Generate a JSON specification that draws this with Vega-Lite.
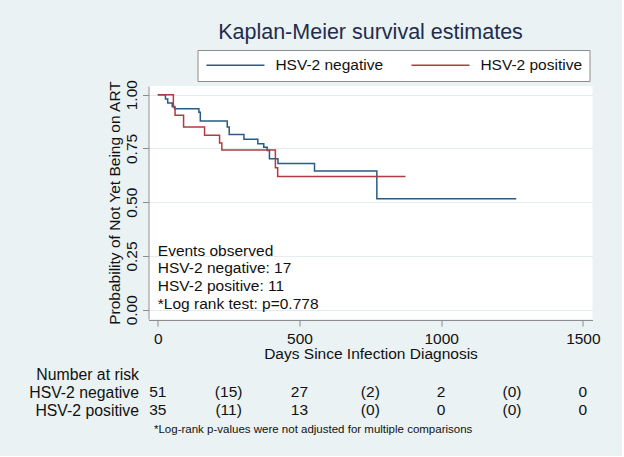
{
  "$schema": "https://vega.github.io/schema/vega-lite/v6.json",
  "background": "#eaf2f3",
  "padding": {"left": 28.5, "top": 22, "right": 21, "bottom": 21},
  "config": {"font": "Liberation Sans", "view": {"stroke": null}},
  "spacing": 4,
  "vconcat": [
    {
      "width": 444,
      "height": 233,
      "title": {"text": "Kaplan-Meier survival estimates", "fontSize": 21.5, "fontWeight": "normal", "color": "#1f2d4d", "anchor": "middle", "offset": 36},
      "view": {"fill": "white", "stroke": null},
      "layer": [
        {
          "data": {"values": [
            {"group": "HSV-2 negative", "t": 0, "s": 1.0},
            {"group": "HSV-2 negative", "t": 27, "s": 0.980},
            {"group": "HSV-2 negative", "t": 35, "s": 0.961},
            {"group": "HSV-2 negative", "t": 51, "s": 0.945},
            {"group": "HSV-2 negative", "t": 59, "s": 0.935},
            {"group": "HSV-2 negative", "t": 145, "s": 0.919},
            {"group": "HSV-2 negative", "t": 150, "s": 0.878},
            {"group": "HSV-2 negative", "t": 245, "s": 0.850},
            {"group": "HSV-2 negative", "t": 252, "s": 0.815},
            {"group": "HSV-2 negative", "t": 304, "s": 0.793},
            {"group": "HSV-2 negative", "t": 353, "s": 0.772},
            {"group": "HSV-2 negative", "t": 374, "s": 0.756},
            {"group": "HSV-2 negative", "t": 386, "s": 0.740},
            {"group": "HSV-2 negative", "t": 394, "s": 0.702},
            {"group": "HSV-2 negative", "t": 424, "s": 0.680},
            {"group": "HSV-2 negative", "t": 553, "s": 0.645},
            {"group": "HSV-2 negative", "t": 773, "s": 0.516},
            {"group": "HSV-2 negative", "t": 1265, "s": 0.516},
            {"group": "HSV-2 positive", "t": 0, "s": 1.0},
            {"group": "HSV-2 positive", "t": 55, "s": 0.943},
            {"group": "HSV-2 positive", "t": 61, "s": 0.905},
            {"group": "HSV-2 positive", "t": 91, "s": 0.850},
            {"group": "HSV-2 positive", "t": 165, "s": 0.812},
            {"group": "HSV-2 positive", "t": 218, "s": 0.775},
            {"group": "HSV-2 positive", "t": 226, "s": 0.743},
            {"group": "HSV-2 positive", "t": 415, "s": 0.660},
            {"group": "HSV-2 positive", "t": 423, "s": 0.620},
            {"group": "HSV-2 positive", "t": 874, "s": 0.620}
          ]},
          "mark": {"type": "line", "interpolate": "step-after", "strokeWidth": 1.5},
          "encoding": {
            "x": {
              "field": "t", "type": "quantitative",
              "scale": {"domain": [-32.8, 1534], "nice": false, "zero": false},
              "axis": {"values": [0, 500, 1000, 1500], "format": "d", "title": "Days Since Infection Diagnosis", "titleFontSize": 15.5, "titleFontWeight": "normal", "titleColor": "#111111", "titlePadding": 0, "labelFontSize": 15.5, "labelColor": "#111111", "labelPadding": 5, "tickSize": 6, "tickColor": "#8c8c8c", "domainColor": "#8c8c8c", "grid": false, "offset": 1, "labelFlush": false}
            },
            "y": {
              "field": "s", "type": "quantitative",
              "scale": {"domain": [-0.043, 1.0405], "nice": false, "zero": false},
              "axis": {"values": [0, 0.25, 0.5, 0.75, 1], "format": ".2f", "title": "Probability of Not Yet Being on ART", "titleFontSize": 15.5, "titleFontWeight": "normal", "titleColor": "#111111", "titlePadding": 2, "labelAngle": -90, "labelAlign": "center", "labelBaseline": "bottom", "labelFontSize": 15.5, "labelColor": "#111111", "labelPadding": 3, "tickSize": 6, "tickColor": "#8c8c8c", "domainColor": "#8c8c8c", "grid": true, "gridColor": "#e4ecee", "labelFlush": false}
            },
            "color": {
              "field": "group", "type": "nominal",
              "scale": {"domain": ["HSV-2 negative", "HSV-2 positive"], "range": ["#2a5a85", "#b33a40"]},
              "legend": {"orient": "none", "legendX": 49, "legendY": -36, "direction": "horizontal", "title": null, "fillColor": "white", "strokeColor": "#8c8c8c", "padding": 7, "labelFontSize": 15.5, "labelColor": "#111111", "symbolType": "M-1,0L9,0", "symbolSize": 134.6, "symbolStrokeWidth": 1.5, "labelOffset": 55.4, "columnPadding": 24, "cornerRadius": 0}
            }
          }
        },
        {
          "data": {"values": [{"note": "Events observed"}]},
          "mark": {"type": "text", "align": "left", "baseline": "top", "fontSize": 15.5, "lineHeight": 17.6, "color": "#111111"},
          "encoding": {
            "x": {"datum": 0},
            "y": {"datum": 0.307},
            "text": {"value": ["Events observed", "HSV-2 negative: 17", "HSV-2 positive: 11", "*Log rank test: p=0.778"]}
          }
        }
      ]
    },
    {
      "width": 444,
      "height": 36,
      "data": {"values": [
        {"group": "HSV-2 negative", "t": 0, "n": "51"},
        {"group": "HSV-2 negative", "t": 250, "n": "(15)"},
        {"group": "HSV-2 negative", "t": 500, "n": "27"},
        {"group": "HSV-2 negative", "t": 750, "n": "(2)"},
        {"group": "HSV-2 negative", "t": 1000, "n": "2"},
        {"group": "HSV-2 negative", "t": 1250, "n": "(0)"},
        {"group": "HSV-2 negative", "t": 1500, "n": "0"},
        {"group": "HSV-2 positive", "t": 0, "n": "35"},
        {"group": "HSV-2 positive", "t": 250, "n": "(11)"},
        {"group": "HSV-2 positive", "t": 500, "n": "13"},
        {"group": "HSV-2 positive", "t": 750, "n": "(0)"},
        {"group": "HSV-2 positive", "t": 1000, "n": "0"},
        {"group": "HSV-2 positive", "t": 1250, "n": "(0)"},
        {"group": "HSV-2 positive", "t": 1500, "n": "0"}
      ]},
      "mark": {"type": "text", "fontSize": 15.5, "color": "#111111"},
      "encoding": {
        "x": {
          "field": "t", "type": "quantitative",
          "scale": {"domain": [-32.8, 1534], "nice": false, "zero": false},
          "axis": {"labels": false, "ticks": false, "domain": false, "grid": false, "title": "*Log-rank p-values were not adjusted for multiple comparisons", "titleFontSize": 11.5, "titleFontWeight": "normal", "titleColor": "#111111", "titleAnchor": "start", "titleAlign": "left", "titleX": 5, "titlePadding": 13}
        },
        "y": {
          "field": "group", "type": "nominal",
          "scale": {"type": "point", "domain": ["Number at risk", "HSV-2 negative", "HSV-2 positive"], "padding": 0},
          "axis": {"title": null, "ticks": false, "domain": false, "grid": false, "labelFontSize": 15.8, "labelColor": "#111111", "labelPadding": 10}
        },
        "text": {"field": "n"}
      }
    }
  ]
}
